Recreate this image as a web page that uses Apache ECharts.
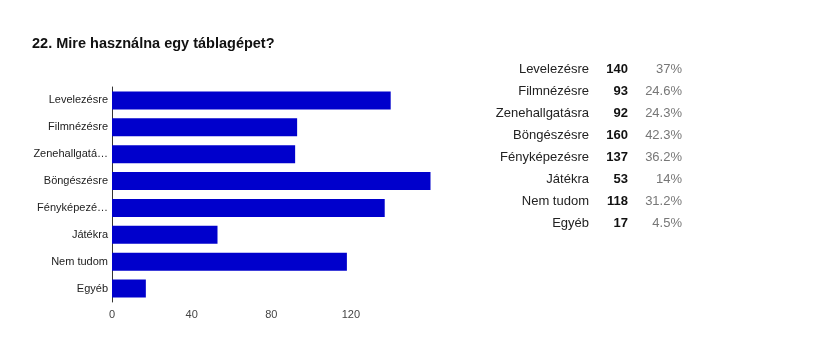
<!DOCTYPE html>
<html>
<head>
<meta charset="utf-8">
<script src="https://cdn.jsdelivr.net/npm/echarts@6/dist/echarts.min.js"></script>
<style>html,body{margin:0;padding:0;background:#fff}#c{width:824px;height:338px}</style>
</head>
<body>
<div id="c"></div>
<script>
const titleText = '22. Mire használna egy táblagépet?';
const categories = ['Levelezésre', 'Filmnézésre', 'Zenehallgatásra', 'Böngészésre', 'Fényképezésre', 'Játékra', 'Nem tudom', 'Egyéb'];
const counts = [140, 93, 92, 160, 137, 53, 118, 17];
const percents = ['37%', '24.6%', '24.3%', '42.3%', '36.2%', '14%', '31.2%', '4.5%'];
const xTicks = [0, 40, 80, 120, 160];

const FONT = '"Liberation Sans", Arial, sans-serif';
const LABEL_FONT = '11px "Liberation Sans", Arial, sans-serif';
const ctx = document.createElement('canvas').getContext('2d');
ctx.font = LABEL_FONT;
function fitLabel(s, maxW) {
  if (ctx.measureText(s).width <= maxW) return s;
  let t = s;
  while (t.length > 1 && ctx.measureText(t + '…').width > maxW) t = t.slice(0, -1);
  return t + '…';
}

const chart = echarts.init(document.getElementById('c'));
chart.setOption({
  backgroundColor: '#ffffff',
  animation: false,
  textStyle: { fontFamily: FONT },
  title: {
    text: titleText, left: 32, top: 36, padding: 0,
    textStyle: { fontFamily: FONT, fontSize: 14.5, fontWeight: 'bold', color: '#111' }
  },
  grid: [
    { left: 112, top: 87, width: 318.5, height: 215 },
    { left: 682, top: 58.3, width: 10, height: 175.7 }
  ],
  xAxis: [
    {
      gridIndex: 0, type: 'value', min: xTicks[0], max: xTicks[xTicks.length - 1], interval: xTicks[1] - xTicks[0],
      axisLine: { show: false }, axisTick: { show: false }, splitLine: { show: false },
      axisLabel: { showMaxLabel: false, color: '#444', fontSize: 11, margin: 7, fontFamily: FONT }
    },
    { gridIndex: 1, type: 'value', show: false }
  ],
  yAxis: [
    {
      gridIndex: 0, type: 'category', inverse: true, data: categories,
      axisLine: { show: true, lineStyle: { color: '#333', width: 1 } },
      axisTick: { show: false },
      axisLabel: { color: '#222', fontSize: 11, margin: 4, fontFamily: FONT, padding: [3, 0, 0, 0],
        formatter: function (v) { return fitLabel(v, 75); } }
    },
    {
      gridIndex: 1, type: 'category', inverse: true, data: categories,
      axisLine: { show: false }, axisTick: { show: false },
      axisLabel: {
        margin: 0, fontFamily: FONT,
        formatter: function (v, i) { return '{a|' + v + '}{b|' + counts[i] + '}{c|' + percents[i] + '}'; },
        rich: {
          a: { width: 100, align: 'right', fontSize: 13, color: '#222', fontFamily: FONT },
          b: { width: 39, align: 'right', fontSize: 13, fontWeight: 'bold', color: '#111', fontFamily: FONT },
          c: { width: 54, align: 'right', fontSize: 13, color: '#777', fontFamily: FONT }
        }
      }
    }
  ],
  series: [
    {
      type: 'bar', xAxisIndex: 0, yAxisIndex: 0, data: counts,
      barCategoryGap: '33%', itemStyle: { color: '#0000cc' }, silent: true
    },
    {
      type: 'bar', xAxisIndex: 1, yAxisIndex: 1, data: [], silent: true
    }
  ]
});
</script>
</body>
</html>
